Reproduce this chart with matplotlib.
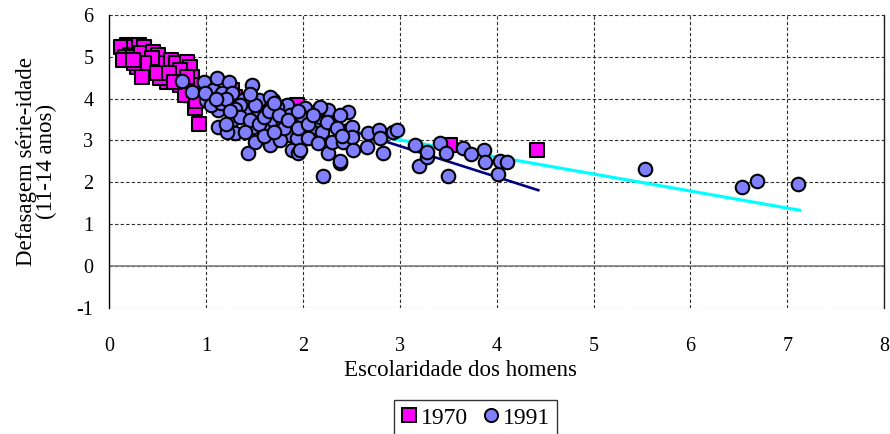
import matplotlib
matplotlib.use("Agg")
import matplotlib.pyplot as plt
from matplotlib.lines import Line2D

# --- dados ---
# 1970 (quadrados)
x1970 = [0.18, 0.12, 0.26, 0.31, 0.36, 0.21, 0.16, 0.24, 0.33, 0.45, 0.50, 0.55,
         0.44, 0.39, 0.29, 0.36, 0.64, 0.69, 0.80, 0.83, 0.73, 0.60, 0.52, 0.49,
         0.85, 0.88, 0.73, 0.78, 0.88, 0.93, 0.62, 0.80, 0.34, 0.26, 0.14, 0.24,
         0.67, 1.01, 1.04, 1.27, 1.94, 3.52, 4.42, 1.15, 1.30, 1.60, 1.75, 0.95,
         0.90]
y1970 = [5.28, 5.23, 5.23, 5.28, 5.23, 5.04, 4.99, 4.99, 5.09, 5.11, 5.04, 4.85,
         4.97, 4.64, 4.75, 4.85, 4.92, 4.85, 4.87, 4.75, 4.68, 4.40, 4.49, 4.61,
         4.52, 4.32, 4.32, 4.08, 3.77, 3.40, 4.61, 4.52, 4.52, 4.85, 4.93, 4.92,
         4.40, 4.16, 4.32, 4.20, 3.84, 2.88, 2.76, 4.00, 4.05, 3.85, 3.75, 4.05,
         3.95]

# 1991 (circulos)
x1991 = [0.75, 0.85, 0.98, 1.00, 1.07, 1.11, 1.24, 1.47, 1.12, 1.27, 1.12, 1.30,
         1.22, 1.43, 1.50, 1.66, 1.89, 1.95, 2.21, 2.38, 2.26, 2.18, 2.26, 2.46,
         2.47, 1.38, 1.52, 1.69, 1.83, 2.02, 1.95, 1.78, 1.63, 1.48, 2.10, 1.90,
         0.99, 1.16, 1.55, 1.66, 1.40, 1.73, 1.69, 1.79, 1.87, 1.76, 1.94, 2.00,
         2.15, 1.87, 1.55, 1.35, 1.27, 2.18, 2.38, 2.20, 2.30, 2.41, 2.51, 2.51,
         2.38, 2.52, 2.66, 2.67, 2.78, 2.80, 2.83, 2.93, 2.97, 3.16, 3.20, 3.28,
         1.97, 3.28, 3.42, 3.48, 3.50, 3.65, 3.73, 3.87, 3.88, 4.01, 4.03, 4.11,
         5.53, 6.53, 6.69, 7.11,
         1.05, 1.15, 1.20, 1.30, 1.35, 1.45, 1.55, 1.60, 1.65, 1.75, 1.80, 1.85,
         1.95, 2.05, 2.10, 2.25, 2.35, 2.40, 1.60, 1.70, 1.40, 1.25, 1.50, 2.05,
         2.15, 1.20, 1.10, 1.45, 1.70, 1.95]
y1991 = [4.42, 4.16, 4.40, 3.96, 4.20, 4.49, 4.40, 4.32, 3.72, 3.48, 3.32, 3.17,
         3.20, 2.69, 2.96, 2.88, 2.76, 2.69, 2.14, 2.45, 2.69, 3.56, 3.72, 3.68,
         3.24, 3.96, 3.72, 3.96, 3.84, 3.77, 3.08, 3.08, 3.24, 3.32, 3.20, 3.41,
         4.13, 4.13, 3.96, 4.04, 3.72, 3.80, 3.48, 3.41, 3.12, 3.00, 3.05, 3.56,
         3.72, 3.60, 3.65, 3.84, 4.13, 3.80, 3.60, 3.20, 2.96, 2.96, 3.32, 3.08,
         2.52, 2.76, 2.84, 3.17, 3.24, 3.05, 2.69, 3.20, 3.24, 2.88, 2.38, 2.60,
         2.76, 2.72, 2.93, 2.69, 2.14, 2.81, 2.67, 2.76, 2.48, 2.19, 2.50, 2.48,
         2.32, 1.89, 2.03, 1.96,
         3.85, 3.90, 4.00, 3.75, 3.55, 3.50, 3.40, 3.55, 3.70, 3.60, 3.30, 3.50,
         3.30, 3.40, 3.60, 3.45, 3.30, 3.10, 3.10, 3.20, 3.20, 3.70, 3.85, 3.05,
         2.95, 3.40, 4.00, 4.10, 3.90, 3.70]

# linhas de tendencia (extremos)
trend1970_x = [0.15, 4.43]
trend1970_y = [4.97, 1.81]
trend1991_x = [0.75, 7.13]
trend1991_y = [3.93, 1.33]

xticks = [0, 1, 2, 3, 4, 5, 6, 7, 8]
yticks = [-1, 0, 1, 2, 3, 4, 5, 6]

plt.rcParams["font.family"] = ["Liberation Serif", "DejaVu Serif"]
plt.rcParams["axes.unicode_minus"] = False

fig = plt.figure(figsize=(8.9, 4.34), dpi=100)
ax = fig.add_axes([0.1228, 0.2910, 0.8705, 0.6744])

ax.set_xlim(0, 8)
ax.set_ylim(-1, 6)
ax.set_xticks(xticks)
ax.set_yticks(yticks)
ax.tick_params(axis="both", length=0, labelsize=14.5)
ax.tick_params(axis="x", pad=21)
ax.tick_params(axis="y", pad=11.5)

# grade tracejada
ax.grid(True, color="#303030", linestyle=(0, (3, 2)), linewidth=0.8, zorder=0)
ax.set_axisbelow(True)
ax.axhline(0, color="#808080", linewidth=1.2, zorder=1)

for side in ["top", "bottom"]:
    ax.spines[side].set_visible(False)
ax.spines["left"].set_color("black")
ax.spines["right"].set_color("#202020")
ax.spines["left"].set_linewidth(1.0)
ax.spines["right"].set_linewidth(1.0)

# tendencias
ax.plot(trend1991_x, trend1991_y, color="#00FFFF", linewidth=2.3, zorder=2)
ax.plot(trend1970_x, trend1970_y, color="#000080", linewidth=1.9, zorder=2)

# pontos
ax.scatter(x1970, y1970, marker="s", s=100, color="#FF00FF",
           edgecolor="black", linewidth=1.5, zorder=3, clip_on=False)
ax.scatter(x1991, y1991, marker="o", s=95, color="#8080FF",
           edgecolor="black", linewidth=1.5, zorder=4, clip_on=False)

ax.set_xlabel("Escolaridade dos homens", fontsize=16.5)
ax.xaxis.set_label_coords(0.4533, -0.216)
ax.xaxis.label.set_va("center")
ax.set_ylabel("Defasagem série-idade\n(11-14 anos)", fontsize=16.5,
              linespacing=0.95)
ax.yaxis.set_label_coords(-0.0675, 0.5)

handles = [
    Line2D([], [], marker="s", linestyle="none", markersize=9.5,
           markerfacecolor="#FF00FF", markeredgecolor="black", markeredgewidth=1.4),
    Line2D([], [], marker="o", linestyle="none", markersize=9.5,
           markerfacecolor="#8080FF", markeredgecolor="black", markeredgewidth=1.4),
]
leg = fig.legend(handles, ["1970", "1991"], loc="upper left",
                 bbox_to_anchor=(394 / 890, 1 - 400 / 434), ncol=2,
                 fontsize=17, frameon=True, fancybox=False, borderaxespad=0,
                 handlelength=0.7, handletextpad=0.15, columnspacing=0.6,
                 borderpad=0.3)
leg.get_frame().set_edgecolor("black")
leg.get_frame().set_linewidth(1.0)

fig.savefig("out.png", dpi=100)
